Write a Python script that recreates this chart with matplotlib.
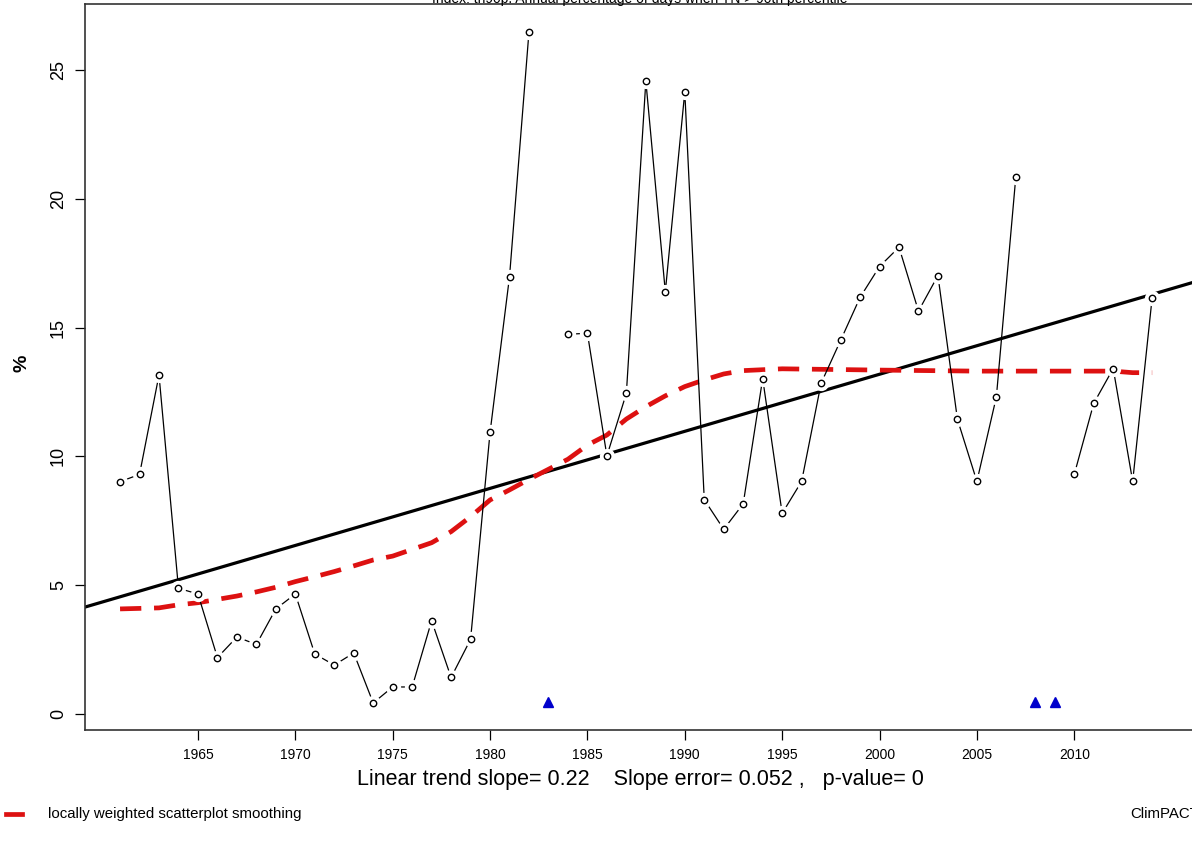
import matplotlib
matplotlib.use("Agg")
import matplotlib.pyplot as plt
import numpy as np

plt.rcParams['font.family'] = ['Liberation Sans', 'DejaVu Sans']

years = np.arange(1961, 2015)
tn90p = [9.02, 9.30, 13.16, 4.88, 4.66, 2.19, 2.99, 2.70, 4.08, 4.66,
         2.33, 1.90, 2.37, 0.43, 1.05, 1.05, 3.62, 1.42, 2.90, 10.93,
         16.98, 26.49, np.nan, 14.74, 14.78, 10.02, 12.45, 24.57, 16.39, 24.15,
         8.32, 7.17, 8.16, 13.02, 7.79, 9.03, 12.84, 14.50, 16.17, 17.37,
         18.12, 15.64, 17.02, 11.44, 9.03, 12.31, 20.86, np.nan, np.nan, 9.30,
         12.06, 13.41, 9.03, 16.16]
tn90p = np.array(tn90p)

lowess_years = [1961, 1963, 1964, 1965, 1966, 1967, 1968, 1969, 1970, 1971,
                1972, 1973, 1974, 1975, 1976, 1977, 1978, 1979, 1980, 1981,
                1982, 1984, 1985, 1986, 1987, 1988, 1989, 1990, 1991, 1992,
                1993, 1995, 2000, 2005, 2010, 2012, 2013, 2014]
lowess_vals = [4.08, 4.12, 4.24, 4.32, 4.45, 4.58, 4.74, 4.92, 5.14, 5.33,
               5.53, 5.75, 5.98, 6.13, 6.39, 6.65, 7.08, 7.66, 8.31, 8.70,
               9.11, 9.89, 10.44, 10.83, 11.45, 11.93, 12.35, 12.71, 12.97, 13.20,
               13.33, 13.40, 13.35, 13.31, 13.31, 13.31, 13.25, 13.25]

missing_years = [1983, 2008, 2009]
missing_level = 0.48

trend_slope = 0.2215
trend_at_1961 = 4.55

fig = plt.figure(figsize=(11.92, 8.49), dpi=100)
ax = fig.add_axes([85 / 1192, 119 / 849, 1110 / 1192, 726 / 849])

ax.axline((1961, trend_at_1961), slope=trend_slope, color='black', lw=2.3, zorder=2)
ax.plot(lowess_years, lowess_vals, color='#dd1111', lw=3.4, dashes=(4.5, 2.7), zorder=3)

# type="b" look: line with gaps around the open circles
ax.plot(years, tn90p, color='black', lw=0.9, zorder=4)
ax.plot(years, tn90p, 'o', ms=11, mfc='white', mec='none', zorder=5)
ax.plot(years, tn90p, 'o', ms=4.6, mfc='white', mec='black', mew=1.0, zorder=6)

ax.plot(missing_years, [missing_level] * len(missing_years), '^', color='#0000cc', ms=7.5, zorder=6)

ax.set_xlim(1959.2, 2016.2)
ax.set_ylim(-0.62, 27.56)
ax.set_xticks(np.arange(1965, 2015, 5))
ax.set_yticks(np.arange(0, 30, 5))
ax.tick_params(axis='x', labelsize=10, length=7, width=0.9, pad=6)
ax.tick_params(axis='y', labelsize=13, length=7, width=0.9, pad=6, labelrotation=90)
for lab in ax.get_yticklabels():
    lab.set_va('center')
for s in ax.spines.values():
    s.set_linewidth(1.2)
    s.set_color('#333333')

fig.text(22 / 1192, 1 - 363 / 849, '%', rotation=90, ha='center', va='center',
         fontsize=14, fontweight='bold')
fig.text(640 / 1192, 1 - 3 / 849, 'Index: tn90p. Annual percentage of days when TN > 90th percentile',
         ha='center', va='baseline', fontsize=10)
fig.text(640 / 1192, 1 - 779 / 849, 'Linear trend slope= 0.22    Slope error= 0.052 ,   p-value= 0',
         ha='center', va='center', fontsize=15.5)
fig.lines.append(plt.Line2D([6 / 1192, 22 / 1192], [1 - 814 / 849] * 2, color='#dd1111',
                            lw=3.4, transform=fig.transFigure))
fig.text(48 / 1192, 1 - 814 / 849, 'locally weighted scatterplot smoothing',
         ha='left', va='center', fontsize=10.8)
fig.text(1130 / 1192, 1 - 814 / 849, 'ClimPACT2', ha='left', va='center', fontsize=10.8)

fig.savefig('out.png', dpi=100)
